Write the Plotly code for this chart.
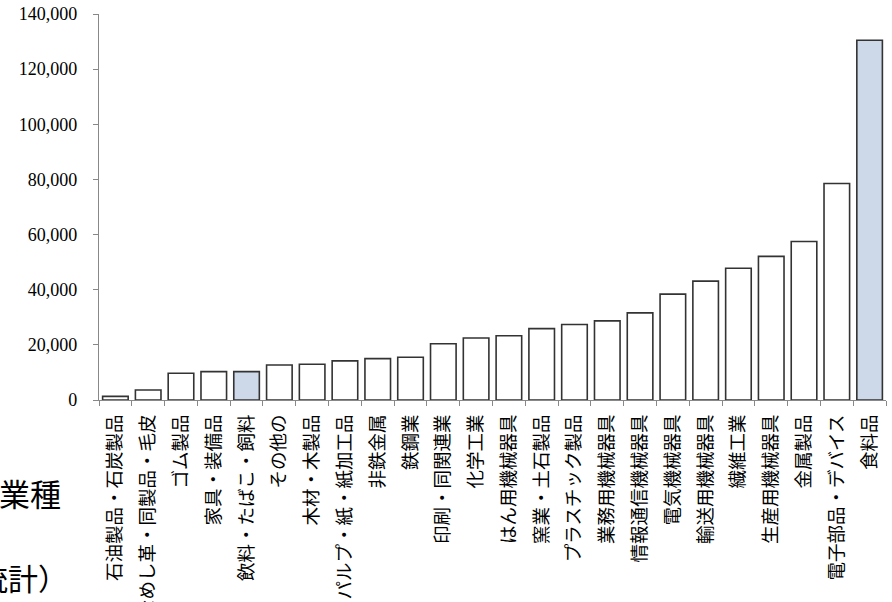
import plotly.graph_objects as go

categories = [
    "石油製品・石炭製品", "なめし革・同製品・毛皮", "ゴム製品", "家具・装備品",
    "飲料・たばこ・飼料", "その他の", "木材・木製品", "パルプ・紙・紙加工品",
    "非鉄金属", "鉄鋼業", "印刷・同関連業", "化学工業", "はん用機械器具",
    "窯業・土石製品", "プラスチック製品", "業務用機械器具", "情報通信機械器具",
    "電気機械器具", "輸送用機械器具", "繊維工業", "生産用機械器具", "金属製品",
    "電子部品・デバイス", "食料品",
]
values = [
    1300, 3650, 9700, 10300, 10300, 12700, 12950, 14200, 15000, 15500,
    20400, 22500, 23300, 25900, 27400, 28700, 31600, 38400, 43100, 47800,
    52100, 57500, 78500, 130500,
]
highlight = ["飲料・たばこ・飼料", "食料品"]
y_ticks = [0, 20000, 40000, 60000, 80000, 100000, 120000, 140000]
y_tick_labels = ["0", "20,000", "40,000", "60,000", "80,000", "100,000", "120,000", "140,000"]

fills = ["#CDD8E9" if c in highlight else "#FFFFFF" for c in categories]

W, H = 892, 602
ML, MR, MT, MB = 99, 6, 14, 202
PW = W - ML - MR

fig = go.Figure(go.Bar(
    x=categories, y=values,
    marker=dict(color=fills, line=dict(color="#333333", width=1.6)),
))

def px_to_paper(px):
    return (px - ML) / PW

fig.update_layout(
    width=W, height=H,
    margin=dict(l=ML, r=MR, t=MT, b=MB, pad=0),
    paper_bgcolor="white", plot_bgcolor="white",
    bargap=0.22, showlegend=False,
    font=dict(family="Liberation Serif, Noto Sans CJK JP", color="#000000"),
)
fig.update_xaxes(
    type="category", tickangle=-90, tickson="boundaries",
    ticks="outside", ticklen=5, tickcolor="#888888", tickwidth=1,
    showline=True, linecolor="#888888", linewidth=1.3,
    showgrid=False, automargin=False, ticklabelstandoff=6,
    tickfont=dict(family="Noto Sans CJK JP", size=18.5, color="#000000"),
)
fig.update_yaxes(
    range=[0, 140000], tickvals=y_ticks, ticktext=y_tick_labels,
    ticks="outside", ticklen=5, tickcolor="#888888", tickwidth=1,
    showline=True, linecolor="#888888", linewidth=1.3,
    showgrid=False, zeroline=False, automargin=False, ticklabelstandoff=12,
    tickfont=dict(family="Liberation Serif", size=18, color="#000000"),
)
fig.add_annotation(
    text="業種", xref="paper", yref="paper",
    x=px_to_paper(-3), y=(H - MB - 492) / (H - MT - MB),
    xanchor="left", yanchor="middle", showarrow=False,
    font=dict(family="Noto Sans CJK JP", size=31, color="#000000"),
)
fig.add_annotation(
    text="統計）", xref="paper", yref="paper",
    x=px_to_paper(-24), y=(H - MB - 577) / (H - MT - MB),
    xanchor="left", yanchor="middle", showarrow=False,
    font=dict(family="Noto Sans CJK JP", size=30, color="#000000"),
)
fig.write_html("out.html")
